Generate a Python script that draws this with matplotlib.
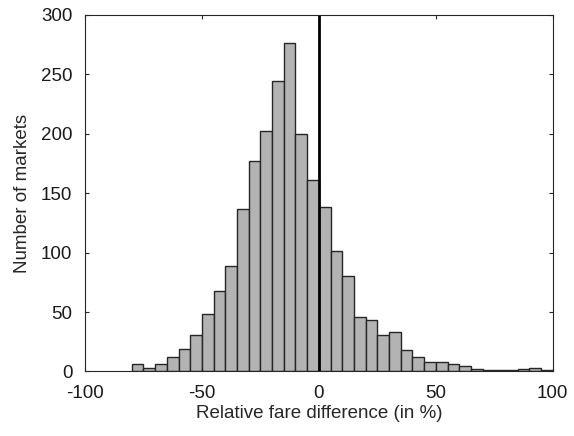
import numpy as np
import matplotlib
matplotlib.use("Agg")
import matplotlib.pyplot as plt

# histogram of relative fare differences, 5% bins
bin_edges = np.arange(-80, 101, 5)
counts = [6, 3, 6, 12, 19, 31, 48, 68, 89, 137, 177, 202, 244, 276, 200, 161,
          138, 101, 80, 46, 43, 31, 33, 18, 12, 8, 8, 6, 5, 2, 1, 1, 1, 2, 3, 1]
xticks = [-100, -50, 0, 50, 100]
yticks = [0, 50, 100, 150, 200, 250, 300]

plt.rcParams['font.family'] = ['Liberation Sans', 'DejaVu Sans']
plt.rcParams['font.size'] = 13.5
plt.rcParams['axes.unicode_minus'] = False

fig = plt.figure(figsize=(5.74, 4.36), dpi=100)
ax = fig.add_axes([0.148, 0.148, 0.815, 0.818])

ax.bar(bin_edges[:-1], counts, width=5, align='edge',
       color='#b3b3b3', edgecolor='#262626', linewidth=1.0)
ax.plot([0, 0], [0, 300], color='black', linewidth=2)

ax.set_xlim(-100, 100)
ax.set_ylim(0, 300)
ax.set_xticks(xticks)
ax.set_yticks(yticks)
ax.tick_params(direction='in', length=3, width=0.8, color='#262626',
               top=True, right=True, labelcolor='#1a1a1a')
ax.tick_params(axis='x', pad=10)
ax.tick_params(axis='y', pad=9)
for s in ax.spines.values():
    s.set_color('#262626')
    s.set_linewidth(0.8)

ax.set_xlabel('Relative fare difference (in %)', color='#262626', labelpad=2)
ax.set_ylabel('Number of markets', color='#262626', labelpad=7)

fig.savefig('out.png', dpi=100)
